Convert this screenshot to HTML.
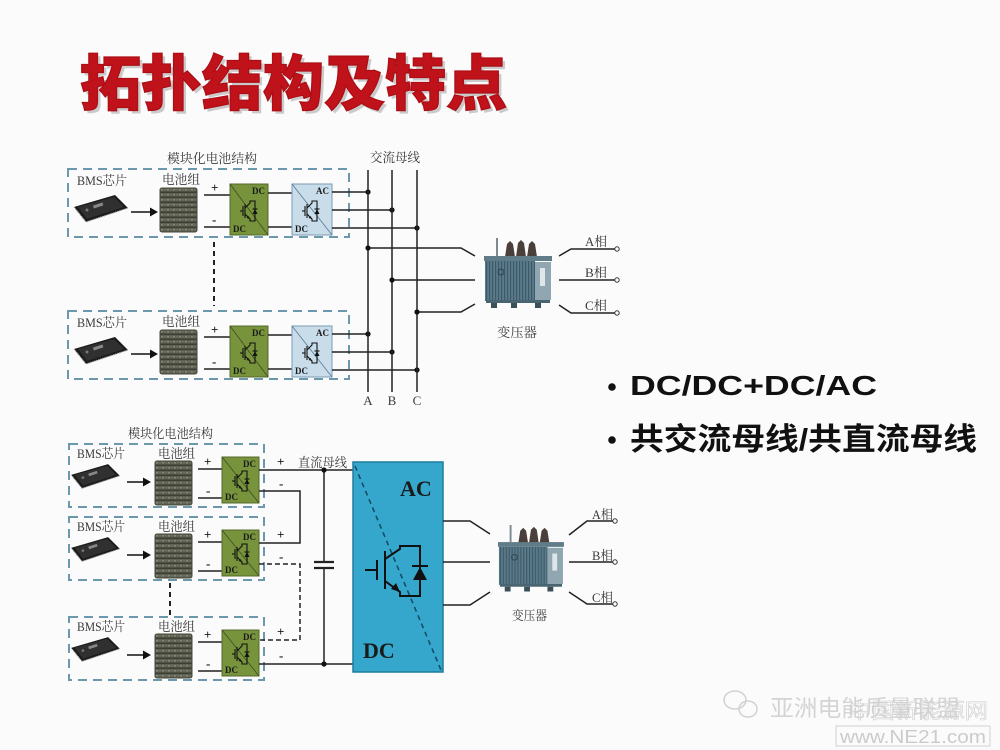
<!DOCTYPE html>
<html><head><meta charset="utf-8"><style>
html,body{margin:0;padding:0;background:#fbfbfb;}
svg{display:block;}
.s{font-family:"Liberation Serif","Noto Serif CJK SC",serif;fill:#3a3a3a;font-size:13px;}
.b{font-family:"Liberation Serif","Noto Serif CJK SC",serif;font-weight:bold;fill:#1a1a1a;}
</style></head><body>
<svg width="1000" height="750" viewBox="0 0 1000 750" xmlns="http://www.w3.org/2000/svg">
<defs>
  <pattern id="bat" width="6" height="5" patternUnits="userSpaceOnUse">
    <rect width="6" height="5" fill="#5e6152"/>
    <rect y="3.5" width="6" height="1.5" fill="#3d3f35"/>
    <circle cx="2" cy="1.8" r="0.9" fill="#8e917e"/>
    <circle cx="5" cy="1.8" r="0.7" fill="#7a7d6a"/>
  </pattern>
  <pattern id="fin" width="3" height="10" patternUnits="userSpaceOnUse">
    <rect width="3" height="10" fill="#5b7b8b"/>
    <rect width="1.2" height="10" fill="#3d5a68"/>
  </pattern>
  <g id="chip">
    <polygon points="1,12 42,0 55,13 13,27" fill="#1b1b1b"/>
    <polygon points="5,12 41,2 51,12 14,24" fill="#303030"/>
    <rect x="20" y="9" width="10" height="3" fill="#888" transform="rotate(-18 25 10)"/>
    <circle cx="14" cy="15" r="1.5" fill="#777"/>
    <polyline points="1,12 13,27 55,13" fill="none" stroke="#a8a8a8" stroke-width="1.2" stroke-dasharray="1 1"/>
  </g>
  <g id="battery">
    <rect x="0" y="0" width="37" height="44" rx="2" fill="url(#bat)"/>
    <rect x="0" y="0" width="37" height="44" rx="2" fill="none" stroke="#46483a" stroke-width="1"/>
  </g>
  <g id="sw" fill="none" stroke="#111" stroke-width="1.1">
    <line x1="-8" y1="0" x2="-5" y2="0"/>
    <line x1="-5" y1="-5" x2="-5" y2="5"/>
    <line x1="-3" y1="-7" x2="-3" y2="7"/>
    <polyline points="-3,-3 2,-8 2,-10 7,-10 7,10 2,10 2,8 -3,3"/>
    <polygon points="4.5,3 9.5,3 7,-2" fill="#111" stroke="none"/>
    <line x1="4.5" y1="-2" x2="9.5" y2="-2"/>
    <polygon points="2,8 -1.5,7 0.5,5" fill="#111" stroke="none"/>
  </g>
  <g id="xfmr">
    <line x1="14" y1="0" x2="14" y2="18" stroke="#7c8a90" stroke-width="2"/>
    <polygon points="22,19 24,6 27,3 30,6 32,19" fill="#4a3f3a"/>
    <polygon points="33,19 35,5 38,2 41,5 43,19" fill="#4a3f3a"/>
    <polygon points="44,19 46,6 49,3 52,6 54,19" fill="#4a3f3a"/>
    <rect x="1" y="18" width="68" height="5" fill="#607c88"/>
    <rect x="2" y="23" width="50" height="40" fill="url(#fin)"/>
    <rect x="52" y="24" width="16" height="38" fill="#90a6b0"/>
    <rect x="57" y="30" width="5" height="18" fill="#dfe6ea"/>
    <circle cx="18" cy="34" r="3" fill="none" stroke="#2d4550" stroke-width="1"/>
    <rect x="3" y="62" width="64" height="3" fill="#4a6572"/>
    <rect x="8" y="65" width="6" height="5" fill="#3a4f58"/>
    <rect x="28" y="65" width="6" height="5" fill="#3a4f58"/>
    <rect x="52" y="65" width="6" height="5" fill="#3a4f58"/>
  </g>
  <g id="topmod">
    <rect x="68" y="169" width="281" height="68" fill="none" stroke="#6c98ad" stroke-width="2" stroke-dasharray="9 6"/>
    <text class="s" x="77" y="185" textLength="50" lengthAdjust="spacingAndGlyphs">BMS芯片</text>
    <use href="#chip" x="73" y="195"/>
    <line x1="131" y1="212" x2="151" y2="212" stroke="#111" stroke-width="1.6"/>
    <polygon points="150,207.5 158,212 150,216.5" fill="#111"/>
    <use href="#battery" x="160" y="188"/>
    <text class="s" x="162" y="184" textLength="38" lengthAdjust="spacingAndGlyphs">电池组</text>
    <line x1="204" y1="195" x2="230" y2="195" stroke="#222" stroke-width="1.5"/>
    <line x1="204" y1="227" x2="230" y2="227" stroke="#222" stroke-width="1.5"/>
    <text class="b" x="211" y="192" font-size="13">+</text>
    <text class="b" x="212" y="224" font-size="13">-</text>
    <rect x="230" y="184" width="38" height="51" fill="#77933c" stroke="#55692c" stroke-width="1"/>
    <line x1="230" y1="184" x2="268" y2="235" stroke="#3f4d22" stroke-width="0.8"/>
    <text class="b" x="252" y="194" font-size="9">DC</text>
    <text class="b" x="233" y="232" font-size="9">DC</text>
    <use href="#sw" x="248" y="211"/>
    <line x1="268" y1="193" x2="292" y2="193" stroke="#222" stroke-width="1.5"/>
    <line x1="268" y1="227" x2="292" y2="227" stroke="#222" stroke-width="1.5"/>
    <rect x="292" y="184" width="40" height="51" fill="#c8dcea" stroke="#7a9bb3" stroke-width="1"/>
    <line x1="292" y1="184" x2="332" y2="235" stroke="#5a7a90" stroke-width="0.8"/>
    <text class="b" x="316" y="194" font-size="9">AC</text>
    <text class="b" x="295" y="232" font-size="9">DC</text>
    <use href="#sw" x="310" y="211"/>
    <line x1="332" y1="192" x2="368" y2="192" stroke="#222" stroke-width="1.5"/>
    <line x1="332" y1="210" x2="392" y2="210" stroke="#222" stroke-width="1.5"/>
    <line x1="332" y1="228" x2="417" y2="228" stroke="#222" stroke-width="1.5"/>
    <circle cx="368" cy="192" r="2.6" fill="#111"/>
    <circle cx="392" cy="210" r="2.6" fill="#111"/>
    <circle cx="417" cy="228" r="2.6" fill="#111"/>
  </g>
  <g id="botmod">
    <rect x="69" y="444" width="195" height="63" fill="none" stroke="#6c98ad" stroke-width="2" stroke-dasharray="9 6"/>
    <text class="s" x="77" y="458" textLength="48" lengthAdjust="spacingAndGlyphs">BMS芯片</text>
    <use href="#chip" x="70" y="464" transform="translate(73 465) scale(0.9) translate(-73 -465)"/>
    <line x1="127" y1="482" x2="144" y2="482" stroke="#111" stroke-width="1.6"/>
    <polygon points="143,477.5 151,482 143,486.5" fill="#111"/>
    <use href="#battery" x="155" y="461"/>
    <text class="s" x="158" y="458" textLength="37" lengthAdjust="spacingAndGlyphs">电池组</text>
    <line x1="198" y1="469" x2="222" y2="469" stroke="#222" stroke-width="1.5"/>
    <line x1="198" y1="498" x2="222" y2="498" stroke="#222" stroke-width="1.5"/>
    <text class="b" x="204" y="466" font-size="13">+</text>
    <text class="b" x="206" y="495" font-size="13">-</text>
    <rect x="222" y="457" width="37" height="46" fill="#77933c" stroke="#55692c" stroke-width="1"/>
    <line x1="222" y1="457" x2="259" y2="503" stroke="#3f4d22" stroke-width="0.8"/>
    <text class="b" x="243" y="467" font-size="9">DC</text>
    <text class="b" x="225" y="500" font-size="9">DC</text>
    <use href="#sw" x="240" y="481"/>
  </g>
</defs>

<!-- Title -->
<text x="83" y="108" font-family="'Noto Sans CJK SC','WenQuanYi Zen Hei',sans-serif" font-weight="900" font-size="60" fill="#9a9a9a" opacity="0.5" textLength="427" lengthAdjust="spacingAndGlyphs">拓扑结构及特点</text>
<text x="80" y="105" font-family="'Noto Sans CJK SC','WenQuanYi Zen Hei',sans-serif" font-weight="900" font-size="60" fill="#c0121a" stroke="#ad0d14" stroke-width="1.2" textLength="427" lengthAdjust="spacingAndGlyphs">拓扑结构及特点</text>

<!-- Top diagram -->
<text class="s" x="167" y="163" textLength="90" lengthAdjust="spacingAndGlyphs">模块化电池结构</text>
<text class="s" x="370" y="162" textLength="50" lengthAdjust="spacingAndGlyphs">交流母线</text>
<use href="#topmod"/>
<use href="#topmod" y="142"/>
<line x1="214" y1="242" x2="214" y2="306" stroke="#222" stroke-width="2" stroke-dasharray="5 4"/>

<line x1="368" y1="170" x2="368" y2="392" stroke="#222" stroke-width="1.5"/>
<line x1="392" y1="170" x2="392" y2="392" stroke="#222" stroke-width="1.5"/>
<line x1="417" y1="170" x2="417" y2="392" stroke="#222" stroke-width="1.5"/>
<text class="s" x="368" y="405" text-anchor="middle">A</text>
<text class="s" x="392" y="405" text-anchor="middle">B</text>
<text class="s" x="417" y="405" text-anchor="middle">C</text>

<polyline points="368,248 461,248 475,256" fill="none" stroke="#222" stroke-width="1.5"/>
<polyline points="392,280 475,280" fill="none" stroke="#222" stroke-width="1.5"/>
<polyline points="417,312 461,312 475,304" fill="none" stroke="#222" stroke-width="1.5"/>
<circle cx="368" cy="248" r="2.6" fill="#111"/>
<circle cx="392" cy="280" r="2.6" fill="#111"/>
<circle cx="417" cy="312" r="2.6" fill="#111"/>

<use href="#xfmr" x="483" y="238"/>
<text class="s" x="497" y="337" textLength="40" lengthAdjust="spacingAndGlyphs">变压器</text>

<polyline points="559,256 571,249 615,249" fill="none" stroke="#222" stroke-width="1.5"/>
<polyline points="559,280 615,280" fill="none" stroke="#222" stroke-width="1.5"/>
<polyline points="559,305 571,313 615,313" fill="none" stroke="#222" stroke-width="1.5"/>
<circle cx="617" cy="249" r="2.2" fill="#fff" stroke="#333" stroke-width="1"/>
<circle cx="617" cy="280" r="2.2" fill="#fff" stroke="#333" stroke-width="1"/>
<circle cx="617" cy="313" r="2.2" fill="#fff" stroke="#333" stroke-width="1"/>
<text class="s" x="585" y="246" textLength="22" lengthAdjust="spacingAndGlyphs">A相</text>
<text class="s" x="585" y="277" textLength="22" lengthAdjust="spacingAndGlyphs">B相</text>
<text class="s" x="585" y="310" textLength="22" lengthAdjust="spacingAndGlyphs">C相</text>

<!-- Bullets -->
<circle cx="612" cy="387" r="3.8" fill="#111"/>
<text x="630" y="395" font-family="'Liberation Sans','Noto Sans CJK SC',sans-serif" font-weight="bold" font-size="28" fill="#111" textLength="247" lengthAdjust="spacingAndGlyphs">DC/DC+DC/AC</text>
<circle cx="612" cy="440" r="3.8" fill="#111"/>
<text x="630" y="450" font-family="'Liberation Sans','Noto Sans CJK SC',sans-serif" font-weight="bold" font-size="31" fill="#111" textLength="347" lengthAdjust="spacingAndGlyphs">共交流母线/共直流母线</text>

<!-- Bottom diagram -->
<text class="s" x="128" y="438" textLength="85" lengthAdjust="spacingAndGlyphs">模块化电池结构</text>
<use href="#botmod"/>
<use href="#botmod" y="73"/>
<use href="#botmod" y="173"/>
<line x1="170" y1="583" x2="170" y2="615" stroke="#222" stroke-width="2" stroke-dasharray="5 4"/>

<text class="s" x="298" y="467" textLength="49" lengthAdjust="spacingAndGlyphs">直流母线</text>
<line x1="259" y1="470" x2="353" y2="470" stroke="#222" stroke-width="1.5"/>
<polyline points="259,491 300,491 300,543 259,543" fill="none" stroke="#222" stroke-width="1.5"/>
<polyline points="259,564 300,564 300,640 259,640" fill="none" stroke="#222" stroke-width="1.5" stroke-dasharray="5 3"/>
<line x1="259" y1="664" x2="353" y2="664" stroke="#222" stroke-width="1.5"/>
<text class="b" x="277" y="466" font-size="13">+</text>
<text class="b" x="279" y="488" font-size="13">-</text>
<text class="b" x="277" y="539" font-size="13">+</text>
<text class="b" x="279" y="561" font-size="13">-</text>
<text class="b" x="277" y="636" font-size="13">+</text>
<text class="b" x="279" y="660" font-size="13">-</text>

<line x1="324" y1="470" x2="324" y2="562" stroke="#222" stroke-width="1.5"/>
<line x1="324" y1="568" x2="324" y2="664" stroke="#222" stroke-width="1.5"/>
<line x1="314" y1="562" x2="334" y2="562" stroke="#222" stroke-width="2.2"/>
<line x1="314" y1="568" x2="334" y2="568" stroke="#222" stroke-width="2.2"/>
<circle cx="324" cy="470" r="2.6" fill="#111"/>
<circle cx="324" cy="664" r="2.6" fill="#111"/>

<rect x="353" y="462" width="90" height="210" fill="#36a7cc" stroke="#1e7c9c" stroke-width="1.5"/>
<line x1="355" y1="466" x2="441" y2="670" stroke="#134e66" stroke-width="1.6" stroke-dasharray="5 4"/>
<text class="b" x="400" y="496" font-size="22">AC</text>
<text class="b" x="363" y="658" font-size="22">DC</text>
<g fill="none" stroke="#111" stroke-width="2">
  <line x1="365" y1="570" x2="377" y2="570"/>
  <line x1="377" y1="560" x2="377" y2="580"/>
  <line x1="385" y1="551" x2="385" y2="589"/>
  <polyline points="385,559 400,549 400,546 420,546 420,596 400,596 400,592 385,581"/>
</g>
<polygon points="413,580 427,580 420,567" fill="#111"/>
<line x1="412" y1="566" x2="428" y2="566" stroke="#111" stroke-width="2"/>
<polygon points="400,592 391,589 396,583" fill="#111"/>

<polyline points="443,521 470,521 490,534" fill="none" stroke="#222" stroke-width="1.5"/>
<polyline points="443,562 490,562" fill="none" stroke="#222" stroke-width="1.5"/>
<polyline points="443,605 470,605 490,592" fill="none" stroke="#222" stroke-width="1.5"/>

<use href="#xfmr" transform="translate(497 525) scale(0.97 0.95)"/>
<text class="s" x="512" y="620" textLength="35" lengthAdjust="spacingAndGlyphs">变压器</text>

<polyline points="569,535 587,521 613,521" fill="none" stroke="#222" stroke-width="1.5"/>
<polyline points="569,562 613,562" fill="none" stroke="#222" stroke-width="1.5"/>
<polyline points="569,592 587,604 613,604" fill="none" stroke="#222" stroke-width="1.5"/>
<circle cx="615" cy="521" r="2.2" fill="#fff" stroke="#333" stroke-width="1"/>
<circle cx="615" cy="562" r="2.2" fill="#fff" stroke="#333" stroke-width="1"/>
<circle cx="615" cy="604" r="2.2" fill="#fff" stroke="#333" stroke-width="1"/>
<text class="s" x="592" y="519" textLength="21" lengthAdjust="spacingAndGlyphs">A相</text>
<text class="s" x="592" y="560" textLength="21" lengthAdjust="spacingAndGlyphs">B相</text>
<text class="s" x="592" y="602" textLength="21" lengthAdjust="spacingAndGlyphs">C相</text>

<!-- Watermark -->
<g fill="none" stroke="#d2d2d2" stroke-width="1.5">
  <ellipse cx="735" cy="700" rx="11" ry="9"/>
  <ellipse cx="748" cy="709" rx="9" ry="8"/>
</g>
<text x="770" y="716" font-family="'Noto Sans CJK SC',sans-serif" font-size="23" fill="#d4d4d4" textLength="190" lengthAdjust="spacingAndGlyphs">亚洲电能质量联盟</text>
<text x="848" y="718" font-family="'Noto Sans CJK SC',sans-serif" font-size="21" fill="none" stroke="#d0d0d0" stroke-width="0.6" textLength="140" lengthAdjust="spacingAndGlyphs">中国新能源网</text>
<rect x="836" y="726" width="154" height="20" fill="none" stroke="#d2d2d2" stroke-width="1"/>
<text x="840" y="743" font-family="'Liberation Sans',sans-serif" font-size="18" fill="#cbcbcb" textLength="146" lengthAdjust="spacingAndGlyphs">www.NE21.com</text>
</svg>
</body></html>
